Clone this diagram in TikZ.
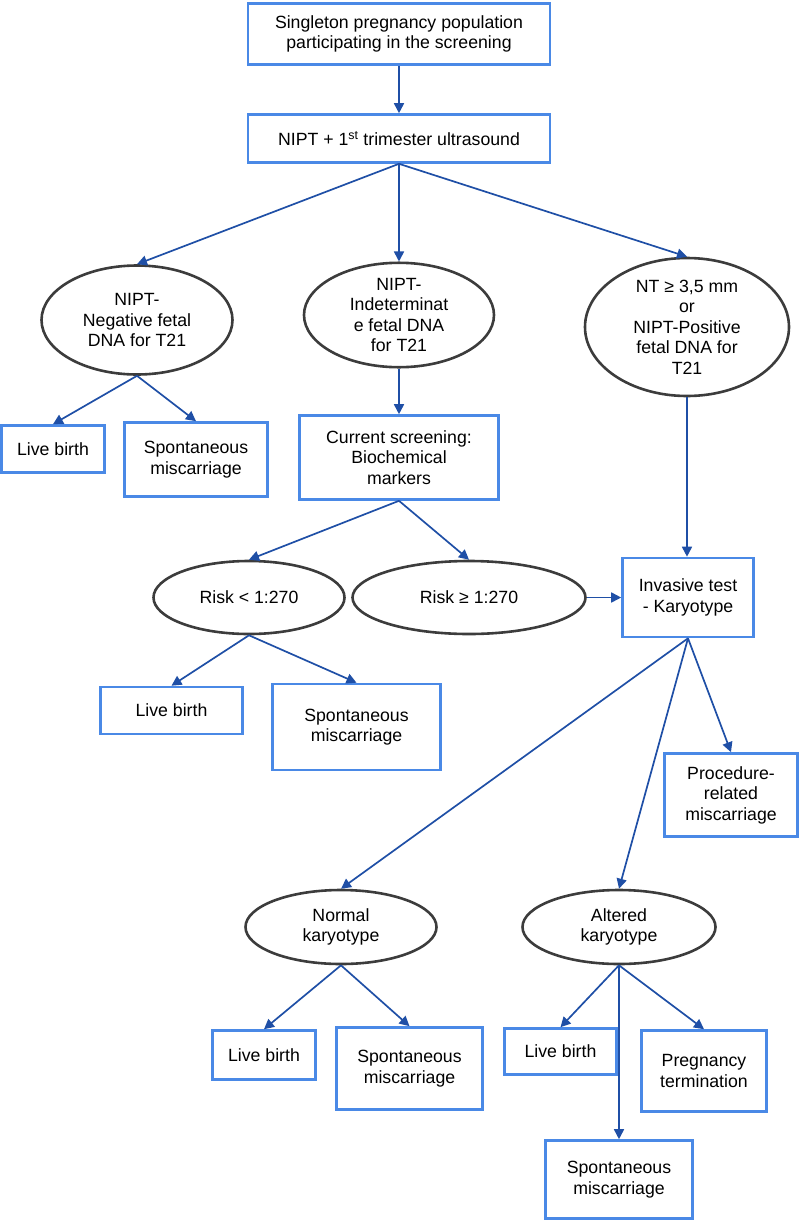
\documentclass[tikz,border=0pt]{standalone}
\usepackage{fontspec}
\setmainfont{Liberation Sans}
\usetikzlibrary{shapes.geometric, positioning, arrows.meta}
\definecolor{boxblue}{HTML}{4A89E6}
\definecolor{arrowblue}{HTML}{1F4FA6}
\definecolor{ovalgray}{HTML}{3C3C3C}
\tikzset{
	bluebox/.style={draw=boxblue, line width=2.6pt, align=center, inner sep=0pt},
	greyoval/.style={ellipse, draw=ovalgray, line width=2.6pt, align=center, inner sep=0pt},
	link/.style={->, arrowblue, line width=1.7pt}
}

\begin{document}
\begin{tikzpicture}[on grid, >={Triangle[length=10pt,width=10pt]}, font=\fontsize{17.7}{20.5}\selectfont]
	\useasboundingbox (0,0) rectangle (799pt,-1221pt);
	\node[bluebox, minimum width=302pt, minimum height=61pt] (start) at (399pt,-34pt) {Singleton pregnancy population\\participating in the screening};
	\node[bluebox, minimum width=302pt, minimum height=48pt, below=104.5pt of start] (nipt) {NIPT + 1\textsuperscript{st} trimester ultrasound};
	\node[greyoval, minimum width=191pt, minimum height=109pt, below left=181.5pt and 262pt of nipt] (neg) {NIPT-\\Negative fetal\\DNA for T21};
	\node[greyoval, minimum width=190pt, minimum height=103pt, below=176.5pt of nipt] (ind) {NIPT-\\Indeterminat\\e fetal DNA\\for T21};
	\node[greyoval, minimum width=204pt, minimum height=138pt, below right=188.5pt and 288pt of nipt] (pos) {NT ≥ 3,5 mm\\or\\NIPT-Positive\\fetal DNA for\\T21};
	\node[bluebox, minimum width=103pt, minimum height=47pt, below left=129pt and 84pt of neg] (live1) {Live birth};
	\node[bluebox, minimum width=143pt, minimum height=74pt, below right=139.5pt and 59pt of neg] (spont1) {Spontaneous\\miscarriage};
	\node[bluebox, minimum width=199pt, minimum height=84pt, below=142.5pt of ind] (current) {Current screening:\\Biochemical\\markers};
	\node[greyoval, minimum width=191pt, minimum height=73pt, below left=140pt and 150pt of current] (low) {Risk < 1:270};
	\node[greyoval, minimum width=233pt, minimum height=73pt, below right=140pt and 70pt of current] (high) {Risk ≥ 1:270};
	\node[bluebox, minimum width=131pt, minimum height=79pt, right=219pt of high] (invasive) {Invasive test\\- Karyotype};
	\node[bluebox, minimum width=142pt, minimum height=47pt, below left=113pt and 77.5pt of low] (live2) {Live birth};
	\node[bluebox, minimum width=168pt, minimum height=86pt, below right=129.5pt and 107.5pt of low] (spont2) {Spontaneous\\miscarriage};
	\node[bluebox, minimum width=133pt, minimum height=83pt, below right=197.5pt and 43pt of invasive] (procedure) {Procedure-\\related\\miscarriage};
	\node[greyoval, minimum width=191pt, minimum height=74pt, below left=329.5pt and 347pt of invasive] (normal) {Normal\\karyotype};
	\node[greyoval, minimum width=193pt, minimum height=74pt, right=278pt of normal] (altered) {Altered\\karyotype};
	\node[bluebox, minimum width=103pt, minimum height=49pt, below left=128pt and 77pt of normal] (live3) {Live birth};
	\node[bluebox, minimum width=146pt, minimum height=82pt, below right=141.5pt and 68.5pt of normal] (spont3) {Spontaneous\\miscarriage};
	\node[bluebox, minimum width=112pt, minimum height=46pt, below left=124.5pt and 58.5pt of altered] (live4) {Live birth};
	\node[bluebox, minimum width=125pt, minimum height=81pt, below right=144pt and 85pt of altered] (termination) {Pregnancy\\termination};
	\node[bluebox, minimum width=147pt, minimum height=78pt, below=252.5pt of altered] (spont4) {Spontaneous\\miscarriage};

	\path[link]
	(start) edge (nipt)
	(nipt.south) edge (neg.north)
	(nipt.south) edge (ind.north)
	(nipt.south) edge (pos.north)
	(neg.south) edge (live1.north)
	(neg.south) edge (spont1.north)
	(ind.south) edge (current.north)
	(current.south) edge (low.north)
	(current.south) edge (high.north)
	(high) edge (invasive)
	(pos.south) edge (pos.south |- invasive.north)
	(low.south) edge (live2.north)
	(low.south) edge (spont2.north)
	(invasive.south) edge (normal.north)
	(invasive.south) edge (altered.north)
	(invasive.south) edge (procedure.north)
	(normal.south) edge (live3.north)
	(normal.south) edge (spont3.north)
	(altered.south) edge (live4.north)
	(altered.south) edge (spont4.north)
	(altered.south) edge (termination.north);
\end{tikzpicture}
\end{document}
